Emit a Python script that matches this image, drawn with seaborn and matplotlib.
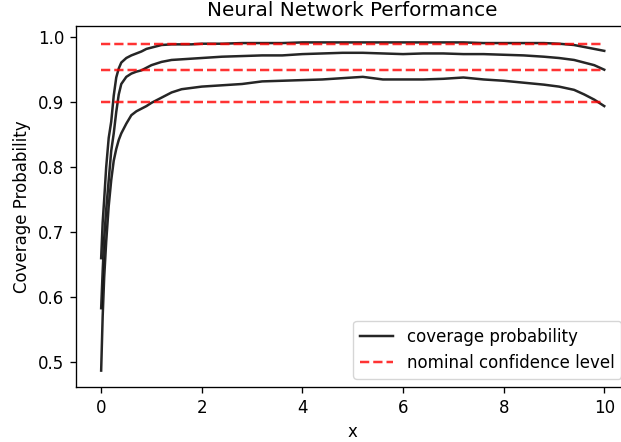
import matplotlib
matplotlib.use("Agg")
import matplotlib.pyplot as plt
import numpy as np
import pandas as pd
import seaborn as sns

# Evaluation grid (denser near zero where coverage climbs quickly)
x_grid = [0.0, 0.03, 0.06, 0.1, 0.15, 0.2, 0.25, 0.3, 0.35, 0.4, 0.5, 0.6, 0.7,
          0.8, 0.9, 1.0, 1.2, 1.4, 1.6, 1.8, 2.0, 2.4, 2.8, 3.2, 3.6, 4.0, 4.4,
          4.8, 5.2, 5.6, 6.0, 6.4, 6.8, 7.2, 7.6, 8.0, 8.4, 8.8, 9.1, 9.4, 9.6,
          9.8, 10.0]

# Empirical coverage of the 99% intervals
coverage_99 = [0.660, 0.715, 0.750, 0.800, 0.845, 0.870, 0.910, 0.938, 0.952,
               0.961, 0.968, 0.972, 0.975, 0.978, 0.982, 0.984, 0.988, 0.989,
               0.989, 0.989, 0.990, 0.990, 0.991, 0.991, 0.991, 0.992, 0.992,
               0.992, 0.992, 0.992, 0.992, 0.992, 0.992, 0.992, 0.991, 0.991,
               0.991, 0.991, 0.990, 0.988, 0.985, 0.982, 0.979]

# Empirical coverage of the 95% intervals
coverage_95 = [0.583, 0.640, 0.690, 0.735, 0.780, 0.825, 0.852, 0.885, 0.912,
               0.928, 0.939, 0.944, 0.947, 0.949, 0.953, 0.957, 0.962, 0.965,
               0.966, 0.967, 0.968, 0.970, 0.971, 0.972, 0.972, 0.974, 0.975,
               0.976, 0.976, 0.975, 0.974, 0.975, 0.975, 0.974, 0.974, 0.973,
               0.972, 0.970, 0.968, 0.965, 0.961, 0.957, 0.950]

# Empirical coverage of the 90% intervals
coverage_90 = [0.487, 0.570, 0.630, 0.685, 0.740, 0.780, 0.810, 0.828, 0.842,
               0.852, 0.867, 0.880, 0.886, 0.890, 0.894, 0.899, 0.907, 0.915,
               0.920, 0.922, 0.924, 0.926, 0.928, 0.932, 0.933, 0.934, 0.935,
               0.937, 0.939, 0.935, 0.935, 0.935, 0.936, 0.938, 0.935, 0.933,
               0.930, 0.927, 0.924, 0.919, 0.912, 0.904, 0.894]

nominal_levels = [0.99, 0.95, 0.90]

df = pd.DataFrame({
    "x": x_grid * 3,
    "coverage": coverage_99 + coverage_95 + coverage_90,
    "level": ["0.99"] * len(x_grid) + ["0.95"] * len(x_grid) + ["0.90"] * len(x_grid),
})

s = 1.2
plt.rcParams.update({
    "font.size": 10 * s,
    "axes.titlesize": 12 * s,
    "axes.linewidth": 0.8 * s,
    "xtick.major.size": 3.5 * s,
    "ytick.major.size": 3.5 * s,
    "xtick.major.width": 0.8 * s,
    "ytick.major.width": 0.8 * s,
    "xtick.major.pad": 3.5 * s,
    "ytick.major.pad": 3.5 * s,
    "axes.titlepad": 6 * s,
    "axes.labelpad": 4 * s,
    "lines.linewidth": 1.5 * s,
})

fig = plt.figure(figsize=(6.21, 4.42), dpi=100)
ax = fig.add_axes([76 / 621, 55 / 442, 553.4 / 621, 361 / 442])

for i, lvl in enumerate(["0.99", "0.95", "0.90"]):
    sub = df[df["level"] == lvl]
    sns.lineplot(data=sub, x="x", y="coverage", color="k", alpha=0.85,
                 linewidth=1.5 * s, ax=ax,
                 label="coverage probability" if i == 0 else None)

ax.hlines(nominal_levels, min(x_grid), max(x_grid), colors="red",
          linestyles="--", alpha=0.8, linewidth=1.5 * s,
          label="nominal confidence level")

ax.set_title("Neural Network Performance")
ax.set_xlabel("x")
ax.set_ylabel("Coverage Probability")
ax.legend(loc="lower right")

fig.savefig("out.png", dpi=100)
